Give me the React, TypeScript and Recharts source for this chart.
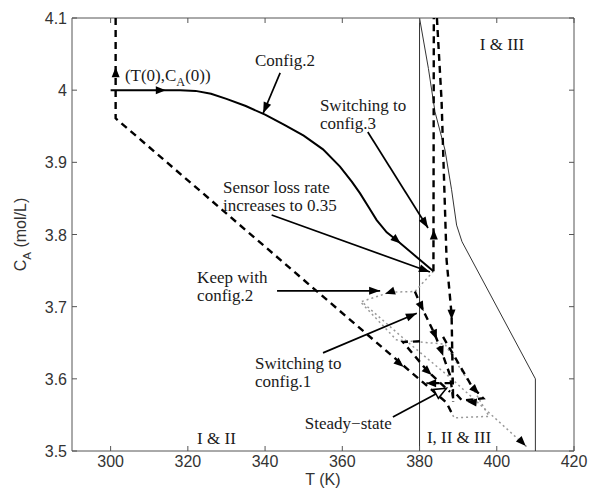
import { ScatterChart, Scatter, XAxis, YAxis, ReferenceLine, Label } from "recharts";

type Pt = [number, number];
type Dir = [number, number, number, number];

// axis ticks
const tTicks = [300, 320, 340, 360, 380, 400, 420];
const cTicks = [3.5, 3.6, 3.7, 3.8, 3.9, 4, 4.1];

// region boundaries (T, C_A)
const edge380: Pt[] = [[380, 3.5], [380, 4.1]];
const edgeIII: Pt[] = [
  [380, 4.1], [382.3, 4.03], [384, 3.97], [386.6, 3.917], [388.3, 3.862],
  [389.6, 3.813], [391, 3.79], [410, 3.6], [410, 3.5],
];

// closed-loop trajectories
const config2Path: Pt[] = [
  [300, 4.0], [318, 4.0], [322, 3.999], [326, 3.995], [330, 3.988], [335, 3.978],
  [340, 3.966], [345, 3.952], [350, 3.937], [355, 3.918], [359.4, 3.894],
  [362.5, 3.873], [364.6, 3.857], [366.8, 3.838], [368.9, 3.82], [371.5, 3.803],
  [374.1, 3.792], [379, 3.77], [383.6, 3.749],
];
const startPath: Pt[] = [[301.3, 4.1], [301.3, 3.961], [387, 3.567], [388.3, 3.553]];
const config3Up: Pt[] = [[383.6, 3.749], [383.7, 4.1]];
const config3Down: Pt[] = [[384.5, 4.1], [385.7, 3.986], [387, 3.765], [388.3, 3.689], [388.7, 3.568]];
const keepConfig2: Pt[] = [
  [383.6, 3.749], [378.8, 3.721], [372.3, 3.72], [365, 3.707],
  [376.7, 3.652], [388.3, 3.6], [407.7, 3.506],
];
const config1Path: Pt[] = [[378.8, 3.721], [380.5, 3.7], [384, 3.661], [385.7, 3.638], [387.9, 3.605], [388.7, 3.573]];
const lossPathA: Pt[] = [[380.1, 3.652], [375.7, 3.651], [382.2, 3.61], [387.9, 3.582]];
const lossPathB: Pt[] = [[386.1, 3.658], [393.5, 3.59], [396.5, 3.573], [391, 3.57], [388.5, 3.585]];
const lossPathC: Pt[] = [[388.3, 3.594], [381.8, 3.594]];
const dottedLoop: Pt[] = [
  [365, 3.705], [374, 3.654], [386.6, 3.648], [394, 3.585], [398, 3.548], [389, 3.546], [387.5, 3.56],
];

// arrowheads on trajectories: point, then a point it heads toward
const flowArrows: Dir[] = [
  [313, 4.0, 318, 4.0],
  [374.1, 3.792, 383.6, 3.749],
  [301.3, 4.025, 301.3, 4.1],
  [374.9, 3.621, 387, 3.567],
  [383.7, 3.8, 383.7, 4.1],
  [388.3, 3.689, 388.7, 3.568],
  [372.3, 3.72, 365, 3.707],
  [406.6, 3.512, 407.7, 3.506],
  [380.5, 3.7, 384, 3.661],
  [384, 3.661, 385.7, 3.638],
  [385.7, 3.638, 387.9, 3.605],
  [382.2, 3.61, 387.9, 3.582],
  [383, 3.594, 381, 3.594],
  [393.5, 3.568, 390, 3.57],
  [394.5, 3.584, 396.5, 3.573],
];

// callout arrows: from, to
const callouts: Dir[] = [
  [343.9, 4.024, 339.5, 3.968],
  [366.6, 3.942, 382.2, 3.809],
  [341.7, 3.827, 382.7, 3.748],
  [343.1, 3.722, 369.8, 3.722],
  [355, 3.636, 379.3, 3.691],
];
const steadyCallout: Dir[] = [[373.1, 3.547, 387, 3.587]];

// text notes: anchor (T, C_A) and lines
const notes: { T: number; C: number; lines: string[] }[] = [
  { T: 303.7, C: 4.013, lines: ["(T(0),C_A(0))"] },
  { T: 337.4, C: 4.033, lines: ["Config.2"] },
  { T: 354.2, C: 3.971, lines: ["Switching to", "config.3"] },
  { T: 329.1, C: 3.857, lines: ["Sensor loss rate", "increases to 0.35"] },
  { T: 322.4, C: 3.733, lines: ["Keep with", "config.2"] },
  { T: 337.4, C: 3.614, lines: ["Switching to", "config.1"] },
  { T: 350.3, C: 3.53, lines: ["Steady\u2212state"] },
  { T: 395.6, C: 4.056, lines: ["I & III"] },
  { T: 322.4, C: 3.51, lines: ["I & II"] },
  { T: 381.9, C: 3.511, lines: ["I, II & III"] },
];

const W = 590;
const H = 490;
const MARGIN = { top: 18, right: 16, bottom: 9, left: 12 };
const Y_W = 60;
const X_H = 30;
const T_DOMAIN: [number, number] = [290, 420];
const C_DOMAIN: [number, number] = [3.5, 4.1];
const PLOT_L = MARGIN.left + Y_W;
const PLOT_R = W - MARGIN.right;
const PLOT_T = MARGIN.top;
const PLOT_B = H - MARGIN.bottom - X_H;
const KX = (PLOT_R - PLOT_L) / (T_DOMAIN[1] - T_DOMAIN[0]);
const KY = (PLOT_B - PLOT_T) / (C_DOMAIN[1] - C_DOMAIN[0]);

const FRAME = "#555";
const SANS = "'Liberation Sans', Arial, sans-serif";
const SERIF = "'Liberation Serif', 'Times New Roman', serif";

const THIN = { stroke: "#333", strokeWidth: 1 };
const SOLID = { stroke: "#000", strokeWidth: 2 };
const DASHED = { stroke: "#000", strokeWidth: 2.4, strokeDasharray: "7 5" };
const DOTTED = { stroke: "#999", strokeWidth: 1.5, strokeDasharray: "2 3" };
const POINTER = { stroke: "#000", strokeWidth: 1.7 };

const rows = (pts: Pt[]) => pts.map(([T, C]) => ({ T, C }));
const dirRows = (list: Dir[], atEnd: boolean) =>
  list.map(([t0, c0, t1, c1]) =>
    atEnd ? { T: t1, C: c1, fT: t0, fC: c0 } : { T: t0, C: c0, fT: 2 * t0 - t1, fC: 2 * c0 - c1 }
  );

const paths: { data: Pt[]; style: Record<string, unknown> }[] = [
  { data: edge380, style: THIN },
  { data: edgeIII, style: THIN },
  { data: keepConfig2, style: DOTTED },
  { data: dottedLoop, style: DOTTED },
  { data: startPath, style: DASHED },
  { data: config3Up, style: DASHED },
  { data: config3Down, style: DASHED },
  { data: config1Path, style: DASHED },
  { data: lossPathA, style: DASHED },
  { data: lossPathB, style: DASHED },
  { data: lossPathC, style: DASHED },
  { data: config2Path, style: SOLID },
  ...callouts.map((d) => ({ data: [[d[0], d[1]], [d[2], d[3]]] as Pt[], style: POINTER })),
  ...steadyCallout.map((d) => ({ data: [[d[0], d[1]], [d[2], d[3]]] as Pt[], style: POINTER })),
];

const NoMark = () => <g />;

const angleOf = (p: any) =>
  (Math.atan2(-(p.C - p.fC) * KY, (p.T - p.fT) * KX) * 180) / Math.PI;

// filled head centred on the point
const FlowHead = (props: any) => {
  const { cx, cy, payload } = props;
  return (
    <polygon
      points="5,0 -5,-4 -5,4"
      transform={`translate(${cx},${cy}) rotate(${angleOf(payload)})`}
      fill="#000"
    />
  );
};

// head with its tip on the point
const TipHead = (props: any) => {
  const { cx, cy, payload } = props;
  return (
    <polygon
      points="0,0 -11,-4 -11,4"
      transform={`translate(${cx},${cy}) rotate(${angleOf(payload)})`}
      fill="#000"
    />
  );
};

const OpenHead = (props: any) => {
  const { cx, cy, payload } = props;
  return (
    <polygon
      points="0,0 -12,-5 -12,5"
      transform={`translate(${cx},${cy}) rotate(${angleOf(payload)})`}
      fill="#fff"
      stroke="#000"
      strokeWidth={1.5}
    />
  );
};

const withSub = (s: string, size: number) => {
  const parts = s.split("_A");
  if (parts.length === 1) return s;
  return (
    <>
      {parts[0]}
      <tspan dy={5} fontSize={size * 0.72}>A</tspan>
      <tspan dy={-5}>{parts[1]}</tspan>
    </>
  );
};

const NoteText = (props: any) => {
  const { cx, cy, payload } = props;
  return (
    <text x={cx} y={cy} fontFamily={SERIF} fontSize={17} fill="#1a1a1a">
      {payload.lines.map((ln: string, i: number) => (
        <tspan key={i} x={cx} dy={i === 0 ? 0 : 18}>
          {withSub(ln, 17)}
        </tspan>
      ))}
    </text>
  );
};

const TTick = (props: any) => {
  const { x, y, payload } = props;
  return (
    <g>
      <line x1={x} x2={x} y1={PLOT_B} y2={PLOT_B - 5} stroke={FRAME} />
      <line x1={x} x2={x} y1={PLOT_T} y2={PLOT_T + 5} stroke={FRAME} />
      <text x={x} y={y + 16} textAnchor="middle" fontFamily={SANS} fontSize={16} fill="#333">
        {payload.value}
      </text>
    </g>
  );
};

const CTick = (props: any) => {
  const { x, y, payload } = props;
  return (
    <g>
      <line x1={PLOT_L} x2={PLOT_L + 5} y1={y} y2={y} stroke={FRAME} />
      <line x1={PLOT_R} x2={PLOT_R - 5} y1={y} y2={y} stroke={FRAME} />
      <text x={x - 5} y={y + 6} textAnchor="end" fontFamily={SANS} fontSize={16} fill="#333">
        {payload.value}
      </text>
    </g>
  );
};

export default function App() {
  return (
    <div style={{ position: "absolute", left: 0, top: 0, background: "#fff" }}>
      <ScatterChart width={W} height={H} margin={MARGIN}>
        <XAxis
          type="number"
          dataKey="T"
          domain={T_DOMAIN}
          ticks={tTicks}
          interval={0}
          allowDataOverflow
          height={X_H}
          tickSize={0}
          tickMargin={0}
          tick={<TTick />}
          stroke={FRAME}
        >
          <Label
            content={(p: any) => (
              <text
                x={p.viewBox.x + p.viewBox.width / 2}
                y={p.viewBox.y + 34}
                textAnchor="middle"
                fontFamily={SANS}
                fontSize={16}
                fill="#333"
              >
                T (K)
              </text>
            )}
          />
        </XAxis>
        <YAxis
          type="number"
          dataKey="C"
          domain={C_DOMAIN}
          ticks={cTicks}
          interval={0}
          allowDataOverflow
          width={Y_W}
          tickSize={0}
          tickMargin={0}
          tick={<CTick />}
          stroke={FRAME}
        >
          <Label
            content={(p: any) => {
              const x = p.viewBox.x + 14;
              const y = p.viewBox.y + p.viewBox.height / 2;
              return (
                <text
                  x={x}
                  y={y}
                  transform={`rotate(-90 ${x} ${y})`}
                  textAnchor="middle"
                  fontFamily={SANS}
                  fontSize={16}
                  fill="#333"
                >
                  {withSub("C_A (mol/L)", 16)}
                </text>
              );
            }}
          />
        </YAxis>
        <ReferenceLine y={C_DOMAIN[1]} stroke={FRAME} />
        <ReferenceLine x={T_DOMAIN[1]} stroke={FRAME} />
        {paths.map((p, i) => (
          <Scatter
            key={`path-${i}`}
            data={rows(p.data)}
            line={p.style}
            lineType="joint"
            shape={NoMark}
            isAnimationActive={false}
          />
        ))}
        <Scatter data={dirRows(flowArrows, false)} shape={FlowHead} isAnimationActive={false} />
        <Scatter data={dirRows(callouts, true)} shape={TipHead} isAnimationActive={false} />
        <Scatter data={dirRows(steadyCallout, true)} shape={OpenHead} isAnimationActive={false} />
        <Scatter data={notes} shape={NoteText} isAnimationActive={false} />
      </ScatterChart>
    </div>
  );
}
